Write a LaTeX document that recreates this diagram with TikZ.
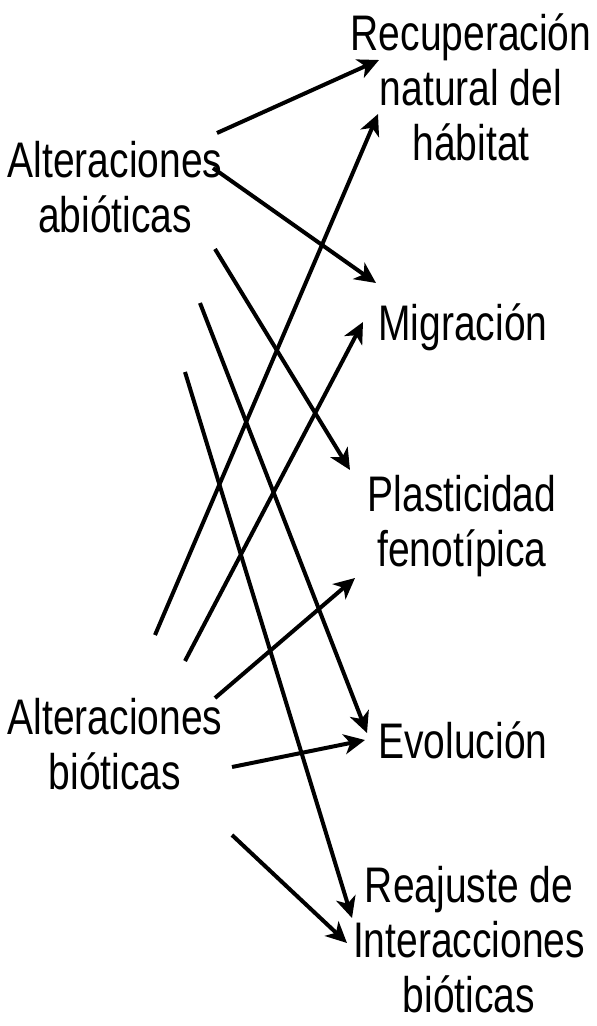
\documentclass[tikz,border=0pt]{standalone}
\usepackage{fontspec}
\setmainfont[FakeStretch=0.78]{Liberation Sans}
\usetikzlibrary{arrows.meta}
\tikzset{box/.style={align=center, inner sep=0pt, font=\fontsize{50}{55}\selectfont},
	link/.style={line width=4pt, -{Stealth[length=21pt,width=20pt,inset=6pt]}}}

\begin{document}
\begin{tikzpicture}[x=1pt,y=-1pt]
		\useasboundingbox (0,0) rectangle (597,1026);
		% causes
		\node[box] (abio) at (115,187) {Alteraciones\\abióticas};
		\node[box] (biot) at (115,744) {Alteraciones\\bióticas};
		% responses
		\node[box] (rec) at (471,87) {Recuperación\\natural del\\hábitat};
		\node[box] (mig) at (463,327) {Migración};
		\node[box] (pla) at (462,526) {Plasticidad\\fenotípica};
		\node[box] (evo) at (463,740) {Evolución};
		\node[box] (rea) at (469,940) {Reajuste de\\Interacciones\\bióticas};
		
		\coordinate (ab1) at (217,133); \coordinate (rec1) at (379,60);
		\coordinate (ab2) at (213,168); \coordinate (mig1) at (376,283);
		\coordinate (ab3) at (215,249); \coordinate (pla1) at (350,470);
		\coordinate (ab4) at (200,303); \coordinate (evo1) at (367,733);
		\coordinate (ab5) at (185,372); \coordinate (rea1) at (352,918);
		\coordinate (bi1) at (155,635); \coordinate (rec2) at (378,114);
		\coordinate (bi2) at (185,661); \coordinate (mig2) at (363,322);
		\coordinate (bi3) at (215,698); \coordinate (pla2) at (355,578);
		\coordinate (bi4) at (232,767); \coordinate (evo2) at (365,740);
		\coordinate (bi5) at (232,835); \coordinate (rea2) at (347,943);
		
		\draw[link] (ab1) -- (rec1);
		\draw[link] (ab2) -- (mig1);
		\draw[link] (ab3) -- (pla1);
		\draw[link] (ab4) -- (evo1);
		\draw[link] (ab5) -- (rea1);
		
		\draw[link] (bi1) -- (rec2);
		\draw[link] (bi2) -- (mig2);
		\draw[link] (bi3) -- (pla2);
		\draw[link] (bi4) -- (evo2);
		\draw[link] (bi5) -- (rea2);
		\end{tikzpicture}
\end{document}
